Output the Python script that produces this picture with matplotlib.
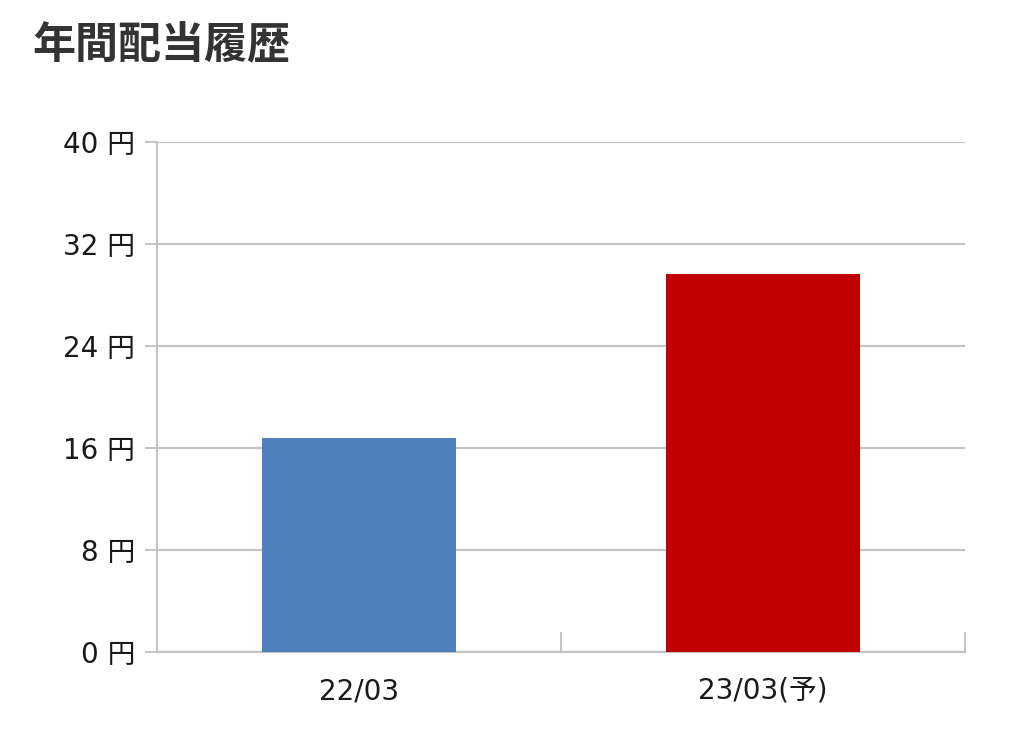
import matplotlib
matplotlib.use("Agg")
import matplotlib.pyplot as plt
from matplotlib.ticker import FixedLocator

plt.rcParams['font.family'] = ['DejaVu Sans', 'Noto Sans CJK JP']

title = "年間配当履歴"
categories = ["22/03", "23/03(予)"]
values = [16.75, 29.65]
colors = ["#4F7FBD", "#C00000"]
yticks = [0, 8, 16, 24, 32, 40]
ytick_labels = [f"{v} 円" for v in yticks]

W, H = 1024, 732
fig = plt.figure(figsize=(W / 100, H / 100), dpi=100)
ax = fig.add_axes([157 / W, (H - 652) / H, (965 - 157) / W, (652 - 142) / H])

x = list(range(len(categories)))
ax.bar(x, values, width=0.478, color=colors, zorder=3)

grid_c = "#c4c4c4"
ax.set_xlim(-0.5, len(categories) - 0.5)
ax.set_ylim(0, 40)
ax.set_yticks(yticks)
ax.set_yticklabels(ytick_labels)
ax.yaxis.grid(True, color=grid_c, linewidth=1.6, zorder=0)
ax.tick_params(axis='y', length=8.6, width=1.4, color=grid_c, pad=7,
               labelsize=20, labelcolor="#1a1a1a")

ax.set_xticks(x)
ax.set_xticklabels(categories)
ax.tick_params(axis='x', which='major', length=0, pad=18, labelsize=20,
               labelcolor="#1a1a1a")
ax.xaxis.set_minor_locator(FixedLocator([i - 0.5 for i in range(len(categories) + 1)]))
ax.tick_params(axis='x', which='minor', direction='in', length=14.4, width=1.4,
               color=grid_c)

for s in ["top", "right"]:
    ax.spines[s].set_visible(False)
for s in ["left", "bottom"]:
    ax.spines[s].set_color(grid_c)
    ax.spines[s].set_linewidth(1.6)

fig.text(32 / W, 1 - 45 / H, title, fontsize=31, fontweight='bold',
         color="#333333", ha='left', va='center',
         family=['Noto Sans CJK JP', 'DejaVu Sans'])

fig.savefig("out.png", dpi=100)
